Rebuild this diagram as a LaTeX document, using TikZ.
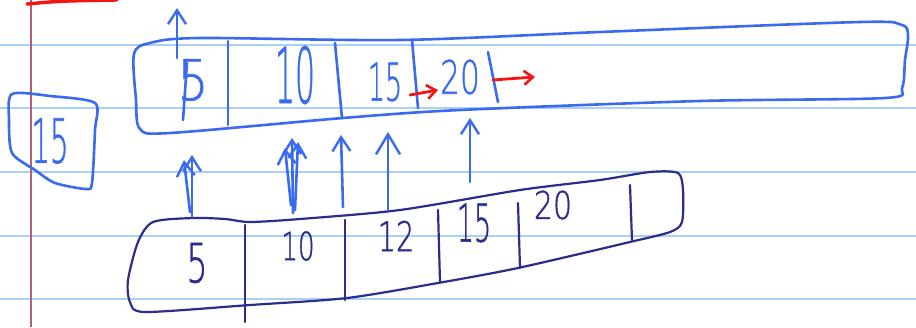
\documentclass[tikz,border=0pt]{standalone}
\usepackage{fontspec}
\usepackage{graphicx}
\setmainfont{DejaVu Sans ExtraLight}[FakeBold=1.2]
\usetikzlibrary{arrows.meta}
\definecolor{penblue}{RGB}{58,106,240}
\definecolor{pennavy}{RGB}{42,45,140}
\definecolor{penred}{RGB}{245,20,20}
\definecolor{rulecol}{RGB}{170,208,250}
\definecolor{margincol}{RGB}{180,94,120}
\newcommand\hwd[3]{{\fontsize{#1}{#1}\selectfont\scalebox{#2}[1]{#3}}}
\tikzset{
  bluepen/.style={draw=penblue, line width=2.6pt, line cap=round, line join=round},
  navypen/.style={draw=pennavy, line width=2.2pt, line cap=round, line join=round},
  redpen/.style={draw=penred, line width=2.8pt, line cap=round, line join=round},
  upar/.style={bluepen, -{Straight Barb[length=14pt,width=18pt,line width=2.4pt]}},
  redar/.style={redpen, -{Straight Barb[length=9pt,width=14pt,line width=2.6pt]}},
  bluedigit/.style={inner sep=0pt, text=penblue},
  navydigit/.style={inner sep=0pt, text=pennavy},
  ruleline/.style={draw=rulecol, line width=1.8pt},
}
\begin{document}
\begin{tikzpicture}[x=1pt,y=-1pt]
\useasboundingbox[fill=white] (0,0) rectangle (916,327);
% ruled paper
\foreach \yy in {45,108,172,236,299} \draw[ruleline] (0,\yy) -- (916,\yy);
\draw[draw=margincol, line width=2pt] (31,0) -- (31,327);
\draw[redpen, line width=3.4pt] (27,4) .. controls (60,1) .. (117,0);

% small box with 15
\draw[bluepen] plot[smooth cycle, tension=0.45] coordinates {(12,94) (50,96) (95,103) (95,130) (92,183) (86,189) (55,183) (35,170) (12,153) (9,120)};
\node[bluedigit] (s15) at (50,141) {\hwd{61}{0.48}{15}};

% top (upper) box
\draw[bluepen] plot[smooth cycle, tension=0.5] coordinates {(134,54) (150,43) (200,38) (400,40) (600,32) (860,22) (902,25) (908,36) (905,60) (902,88) (885,98) (700,101) (460,110) (343,118) (170,133) (140,129) (136,100)};
\draw[bluepen] (228,41) -- (228,125);
\draw[bluepen] (335,43) -- (342,118);
\draw[bluepen] (412,40) -- (418,108);
\draw[bluepen] (488,52) -- (498,102);
\node[bluedigit] (t5) at (193,80) {\hwd{56}{0.87}{5}};
\draw[bluepen] (187,63) -- (183,120);
\node[bluedigit] (t10) at (295,75) {\hwd{77}{0.41}{10}};
\node[bluedigit] (t15) at (385,82) {\hwd{52}{0.52}{15}};
\node[bluedigit] (t20) at (460,77) {\hwd{46}{0.68}{20}};

% top arrow out of the upper box
\coordinate (a0s) at (177,58);
\coordinate (a0e) at (177,8);
\draw[upar] (a0s) -- (a0e);

% red arrows
\coordinate (r1s) at (410,95);
\coordinate (r1e) at (438,90);
\draw[redar] (r1s) -- (r1e);
\coordinate (r2s) at (493,80);
\coordinate (r2e) at (535,77);
\draw[redar] (r2s) -- (r2e);

% lower box
\draw[navypen] plot[smooth cycle, tension=0.45] coordinates {(153,222) (193,218) (225,219) (250,222) (300,219) (400,210) (520,190) (600,180) (650,172) (678,173) (683,190) (682,222) (670,232) (630,242) (518,268) (438,283) (347,298) (250,305) (145,312) (130,302) (128,280) (138,242)};
\draw[navypen] (245,225) -- (245,322);
\draw[navypen] (345,220) -- (345,300);
\draw[navypen] (438,210) -- (440,282);
\draw[navypen] (518,203) -- (520,268);
\draw[navypen] (630,185) -- (632,240);
\node[navydigit] (b5) at (197,263) {\hwd{54}{0.61}{5}};
\node[navydigit] (b10) at (298,246) {\hwd{39}{0.67}{10}};
\node[navydigit] (b12) at (396,236) {\hwd{41}{0.7}{12}};
\node[navydigit] (b15) at (474,223) {\hwd{52}{0.52}{15}};
\node[navydigit] (b20) at (553,205) {\hwd{38}{0.79}{20}};

% arrows from lower box up to upper box
\coordinate (a1s) at (192,217); \coordinate (a1e) at (192,155);
\coordinate (a1bs) at (190,212); \coordinate (a1be) at (184,160);
\draw[upar] (a1s) -- (a1e);
\draw[upar] (a1bs) -- (a1be);
\coordinate (a2s) at (293,213); \coordinate (a2e) at (292,138);
\coordinate (a2bs) at (295,210); \coordinate (a2be) at (298,142);
\coordinate (a2cs) at (291,205); \coordinate (a2ce) at (285,148);
\draw[upar] (a2s) -- (a2e);
\draw[upar] (a2bs) -- (a2be);
\draw[upar] (a2cs) -- (a2ce);
\coordinate (a3s) at (343,207); \coordinate (a3e) at (341,135);
\draw[upar] (a3s) -- (a3e);
\coordinate (a4s) at (388,210); \coordinate (a4e) at (388,132);
\draw[bluepen, -{Straight Barb[length=20pt,width=24pt,line width=2.4pt]}] (a4s) -- (a4e);
\coordinate (a5s) at (470,182); \coordinate (a5e) at (470,118);
\draw[upar] (a5s) -- (a5e);
\end{tikzpicture}
\end{document}
